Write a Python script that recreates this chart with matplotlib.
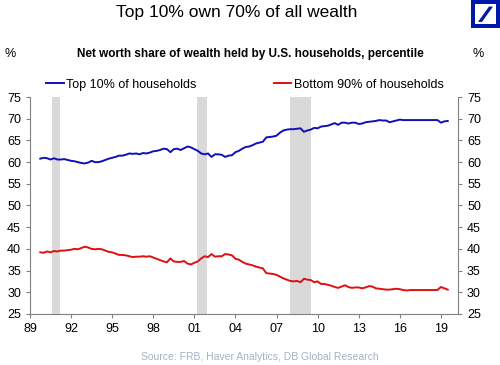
import matplotlib
matplotlib.use('Agg')
import matplotlib.pyplot as plt
import numpy as np
from matplotlib.patches import Rectangle, Polygon

plt.rcParams['font.family'] = ['Liberation Sans', 'DejaVu Sans']

# quarterly net worth shares, 1989Q3 .. 2019Q2
start_year = 1989.75
top10 = [60.8, 61.0,
         60.9, 60.6, 60.9, 60.6,
         60.6, 60.7, 60.5, 60.3,
         60.2, 60.0, 59.8, 59.7,
         59.9, 60.3, 60.0, 60.0,
         60.2, 60.5, 60.8, 61.0,
         61.2, 61.5, 61.5, 61.7,
         62.0, 61.9, 62.0, 61.8,
         62.1, 62.0, 62.2, 62.5,
         62.6, 62.8, 63.1, 63.0,
         62.3, 63.0, 63.1, 62.8,
         63.2, 63.6, 63.4, 63.0,
         62.6, 62.0, 61.8, 62.0,
         61.2, 61.8, 61.8, 61.7,
         61.2, 61.5, 61.6, 62.3,
         62.6, 63.1, 63.5, 63.6,
         63.9, 64.3, 64.5, 64.7,
         65.7, 65.8, 65.9, 66.1,
         66.8, 67.3, 67.5, 67.6,
         67.6, 67.7, 67.8, 67.0,
         67.3, 67.5, 67.9, 67.8,
         68.2, 68.3, 68.4, 68.7,
         69.0, 68.6, 69.1, 69.1,
         68.9, 69.1, 69.1, 68.8,
         68.9, 69.2, 69.3, 69.4,
         69.5, 69.7, 69.6, 69.6,
         69.2, 69.4, 69.6, 69.8,
         69.7, 69.7, 69.7, 69.7,
         69.7, 69.7, 69.7, 69.7,
         69.7, 69.7, 69.7, 69.1,
         69.4, 69.5]
bottom90 = [39.2, 39.1,
            39.4, 39.2, 39.5, 39.4,
            39.6, 39.6, 39.7, 39.8,
            40.0, 39.9, 40.2, 40.5,
            40.3, 40.0, 39.9, 40.0,
            39.9, 39.6, 39.3, 39.2,
            38.9, 38.6, 38.6, 38.5,
            38.3, 38.1, 38.2, 38.2,
            38.3, 38.2, 38.3, 38.0,
            37.7, 37.4, 37.1, 36.9,
            37.8, 37.1, 37.0, 37.0,
            37.2, 36.6, 36.4, 36.8,
            37.1, 37.8, 38.3, 38.1,
            38.8, 38.2, 38.3, 38.3,
            38.8, 38.7, 38.5, 37.7,
            37.5, 37.0, 36.6, 36.4,
            36.2, 35.9, 35.7, 35.5,
            34.4, 34.3, 34.2, 34.0,
            33.6, 33.2, 32.9, 32.6,
            32.5, 32.6, 32.3, 33.1,
            32.9, 32.8, 32.3, 32.5,
            31.9, 31.9, 31.7, 31.5,
            31.2, 31.0, 31.3, 31.6,
            31.2, 31.0, 31.1, 31.1,
            30.9, 31.1, 31.4, 31.3,
            30.9, 30.8, 30.7, 30.6,
            30.6, 30.7, 30.8, 30.7,
            30.5, 30.4, 30.5, 30.5,
            30.5, 30.5, 30.5, 30.5,
            30.5, 30.5, 30.5, 31.2,
            30.9, 30.6]
recessions = [(1990.6, 1991.2), (2001.2, 2001.9), (2008.0, 2009.5)]
xtick_years = [1989, 1992, 1995, 1998, 2001, 2004, 2007, 2010, 2013, 2016, 2019]
xtick_labels = ['89', '92', '95', '98', '01', '04', '07', '10', '13', '16', '19']

t = start_year + 0.25 * np.arange(len(top10))

fig = plt.figure(figsize=(5, 3.65), dpi=100)
ax = fig.add_axes([0.06, 0.14, 0.856, 0.594])

for a, b in recessions:
    ax.axvspan(a, b, color='#d9d9d9', lw=0, zorder=0)

ax.plot(t, top10, color='#1010b8', lw=1.4, label='Top 10% of households')
ax.plot(t, bottom90, color='#e01010', lw=1.4, label='Bottom 90% of households')

ax.set_xlim(1989, 2020.25)
ax.set_ylim(25, 75)
ax.set_yticks(np.arange(25, 76, 5))
ax.set_xticks(xtick_years)
ax.set_xticklabels(xtick_labels)

for s in ['left', 'right', 'bottom']:
    ax.spines[s].set_color('#808080')
ax.spines['top'].set_visible(False)
ax.tick_params(axis='both', colors='#808080', labelcolor='black', labelsize=9,
               length=3, direction='out')
ax.tick_params(axis='y', right=True, labelright=True)

leg = ax.legend(loc='lower left', bbox_to_anchor=(0.023, 1.0), ncol=2, frameon=False,
                fontsize=9, handlelength=1.4, handletextpad=0.2, columnspacing=6.2,
                borderaxespad=0.1)

fig.text(0.474, 0.965, 'Top 10% own 70% of all wealth', ha='center', va='center', fontsize=12.5)
fig.text(0.5, 0.852, 'Net worth share of wealth held by U.S. households, percentile',
         ha='center', va='center', fontsize=8.5, fontweight='bold')
fig.text(0.02, 0.852, '%', ha='center', va='center', fontsize=9)
fig.text(0.957, 0.852, '%', ha='center', va='center', fontsize=9)
fig.text(0.52, 0.022, 'Source: FRB, Haver Analytics, DB Global Research',
         ha='center', va='center', fontsize=7.5, color='#a3b2c6')

# logo
lx, ly, lw_, lh = 0.942, 0.922, 0.058, 0.078
fig.patches.append(Rectangle((lx, ly), lw_, lh, transform=fig.transFigure,
                             facecolor='#0018a8', edgecolor='none'))
fig.patches.append(Rectangle((lx + 0.008, ly + 0.011), lw_ - 0.016, lh - 0.022,
                             transform=fig.transFigure, facecolor='white', edgecolor='none'))
fig.patches.append(Polygon([(lx + 0.014, ly + 0.018), (lx + 0.022, ly + 0.018),
                            (lx + 0.044, ly + 0.060), (lx + 0.036, ly + 0.060)],
                           transform=fig.transFigure, facecolor='#0018a8', edgecolor='none'))

fig.savefig('out.png', dpi=100)
